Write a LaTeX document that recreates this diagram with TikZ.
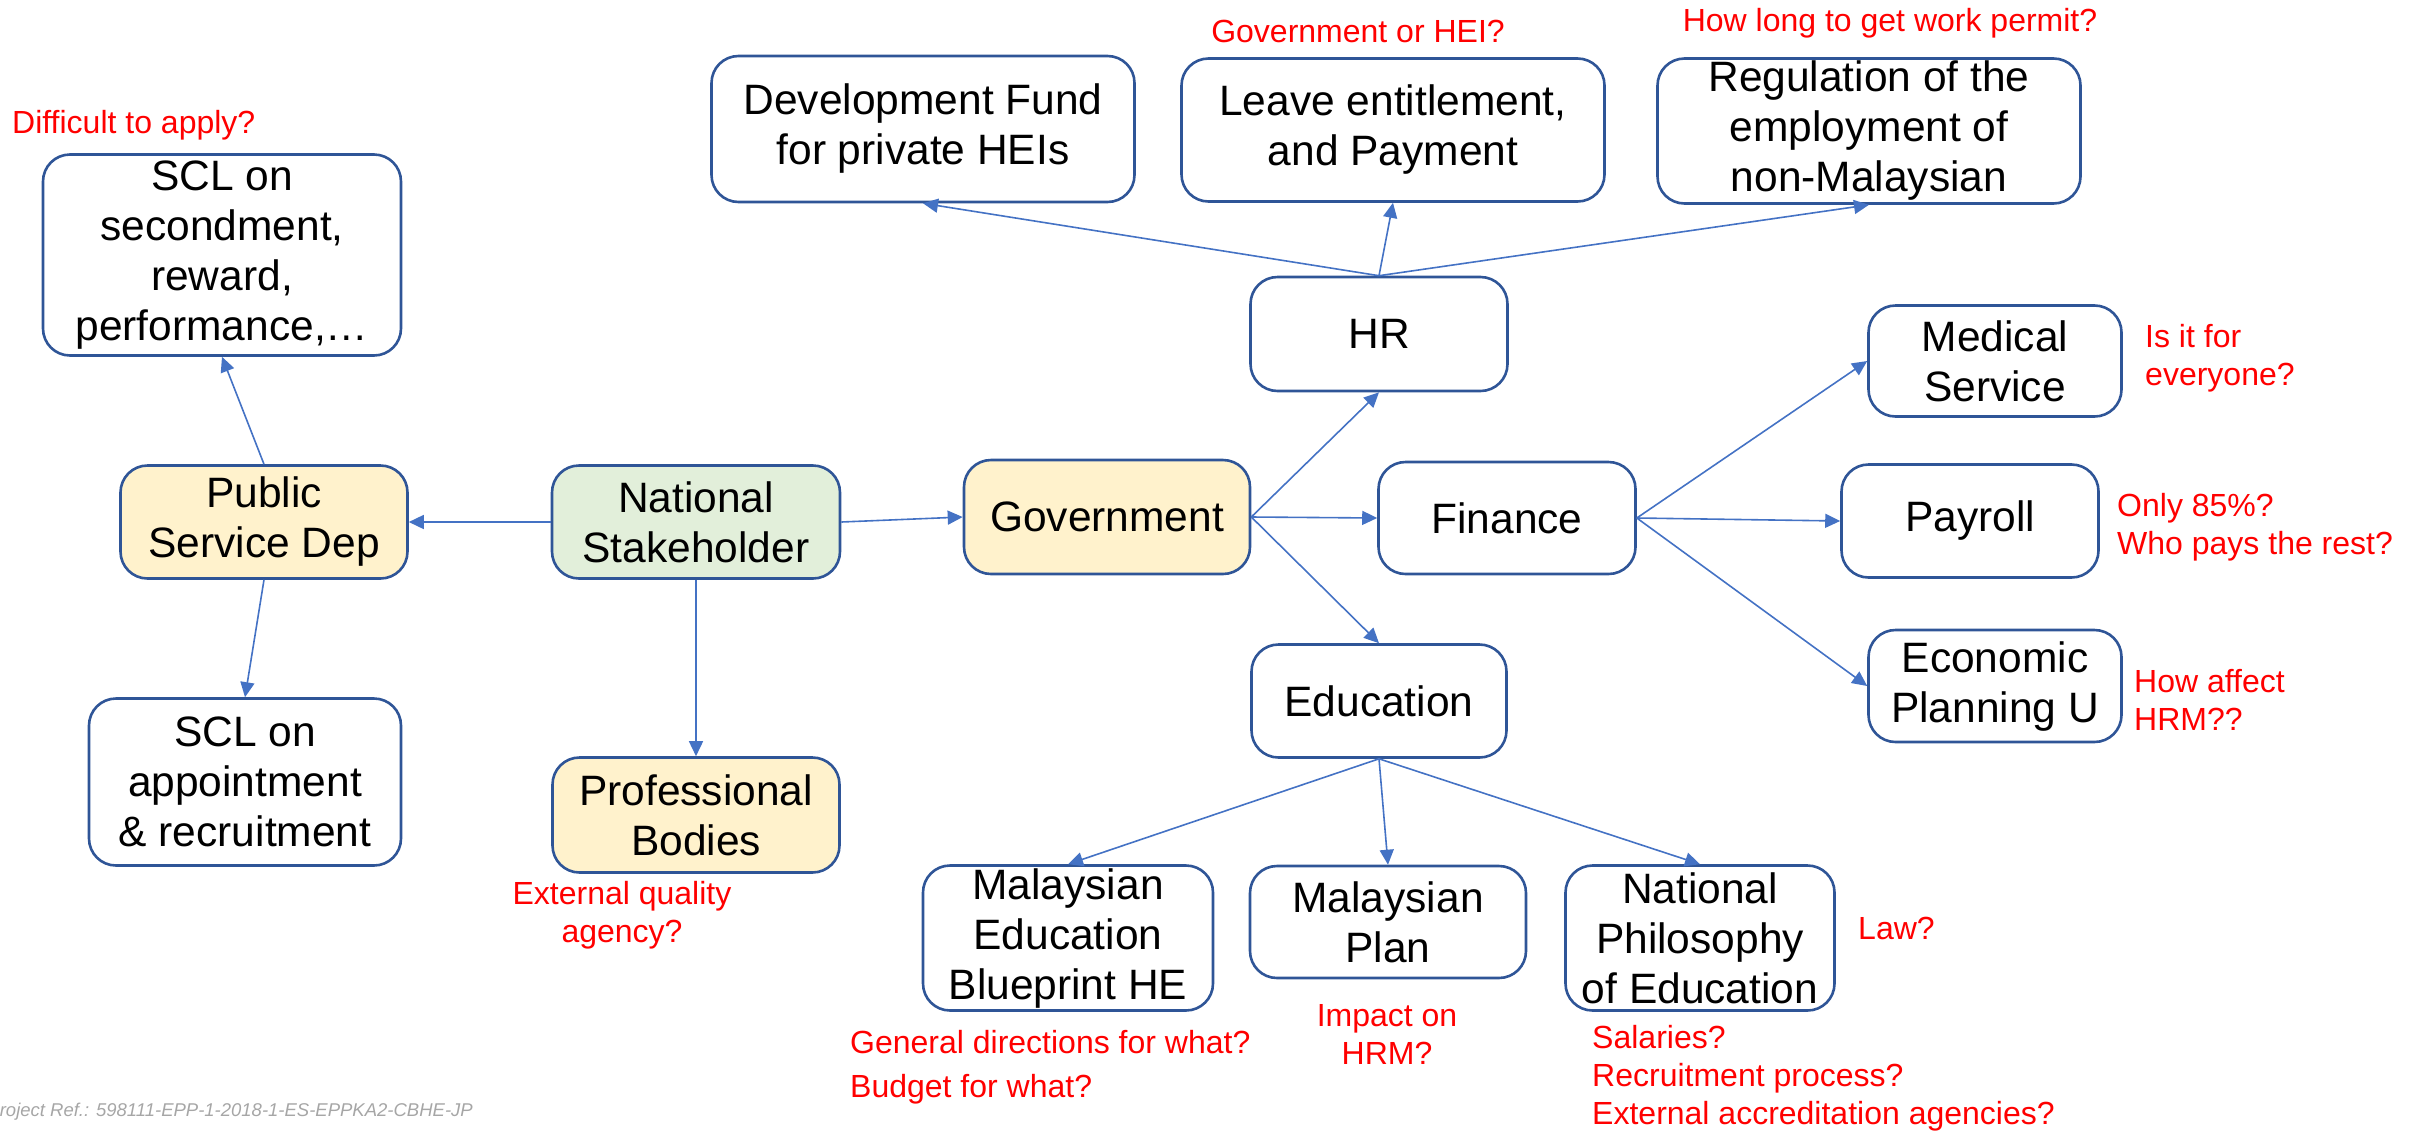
\documentclass[tikz,border=0pt]{standalone}
\usepackage{fontspec}
\setmainfont{Liberation Sans}
\usetikzlibrary{shapes}
\usetikzlibrary{arrows.meta}

\definecolor{boxline}{HTML}{2F5597}
\definecolor{linkblue}{HTML}{4472C4}
\definecolor{hubfill}{HTML}{FFF2CC}
\definecolor{nsfill}{HTML}{E2EFDA}
\definecolor{footgrey}{HTML}{A6A6A6}

\begin{document}
\begin{tikzpicture}[x=1pt,y=-1pt]
	\tikzstyle{every node}=[font=\fontsize{42.5}{50}\selectfont]
	\tikzstyle{unit}=[rectangle, rounded corners=27pt, draw=boxline, line width=2.6pt, align=center, inner xsep=2pt, inner ysep=0pt]
	\tikzstyle{hub}=[unit, fill=hubfill]
	\tikzstyle{note}=[text=red, font=\fontsize{32}{38}\selectfont, inner sep=0pt]
	\tikzstyle{link}=[draw=linkblue, line width=1.6pt, -{Triangle[length=15pt,width=14pt]}]

	\useasboundingbox (0,0) rectangle (2420,1133);

	% left branch
	\node[unit, minimum width=358pt, minimum height=201pt] (secondment) at (222,255) {SCL on\\secondment,\\reward,\\performance,…};
	\node[hub, minimum width=287pt, minimum height=113pt] (psd) at (264,522) {Public\\Service Dep};
	\node[unit, minimum width=312pt, minimum height=167pt] (appoint) at (245,782) {SCL on\\appointment\\\& recruitment};
	\node[unit, fill=nsfill, minimum width=288pt, minimum height=113pt] (national) at (696,522) {National\\Stakeholder};
	\node[hub, minimum width=287pt, minimum height=115pt] (bodies) at (696,815) {Professional\\Bodies};

	% government and its units
	\node[hub, minimum width=286pt, minimum height=114pt] (gov) at (1107,517) {Government};
	\node[unit, minimum width=257pt, minimum height=114pt] (hr) at (1379,334) {HR};
	\node[unit, minimum width=257pt, minimum height=112pt] (finance) at (1507,518) {Finance};
	\node[unit, minimum width=255pt, minimum height=113pt] (edu) at (1379,701) {Education};

	% under HR
	\node[unit, minimum width=423pt, minimum height=146pt] (fund) at (923,129) {Development Fund\\for private HEIs};
	\node[unit, minimum width=423pt, minimum height=143pt] (leave) at (1393,130) {Leave entitlement,\\and Payment};
	\node[unit, minimum width=423pt, minimum height=145pt] (permit) at (1869,131) {Regulation of the\\employment of\\non-Malaysian};

	% under Finance
	\node[unit, minimum width=253pt, minimum height=111pt] (medical) at (1995,361) {Medical\\Service};
	\node[unit, minimum width=257pt, minimum height=113pt] (payroll) at (1970,521) {Payroll};
	\node[unit, minimum width=253pt, minimum height=112pt] (econ) at (1995,686) {Economic\\Planning U};

	% under Education
	\node[unit, minimum width=290pt, minimum height=145pt] (blueprint) at (1068,938) {Malaysian\\Education\\Blueprint HE};
	\node[unit, minimum width=276pt, minimum height=112pt] (plan) at (1388,922) {Malaysian\\Plan};
	\node[unit, minimum width=269pt, minimum height=145pt] (philosophy) at (1700,938) {National\\Philosophy\\of Education};

	% questions
	\node[note, anchor=west] (q1) at (12,125) {Difficult to apply?};
	\node[note, align=center] (q2) at (622,915) {External quality\\agency?};
	\node[note] (q3) at (1358,31) {Government or HEI?};
	\node[note] (q4) at (1890,23) {How long to get work permit?};
	\node[note, anchor=west, align=left] (q5) at (2145,358) {Is it for\\everyone?};
	\node[note, anchor=west, align=left] (q6) at (2117,527) {Only 85\%?\\Who pays the rest?};
	\node[note, anchor=west, align=left] (q7) at (2134,700) {How affect\\HRM??};
	\node[note, anchor=west, align=left] (q8) at (850,1067) {General directions for what?\\[6pt]Budget for what?};
	\node[note, align=center] (q9) at (1387,1034) {Impact on\\HRM?};
	\node[note, anchor=west] (q10) at (1858,928) {Law?};
	\node[note, anchor=west, align=left] (q11) at (1592,1078) {Salaries?\\Recruitment process?\\External accreditation agencies?};

	\node[anchor=east, text=footgrey, font=\fontsize{18.5}{22}\selectfont\itshape, inner sep=0pt] (ref) at (473,1112) {Project Ref.: 598111-EPP-1-2018-1-ES-EPPKA2-CBHE-JP};

	% connectors
	\draw[link] (national.west) -- (psd.east);
	\draw[link] (national.east) -- (gov.west);
	\draw[link] (national.south) -- (bodies.north);
	\draw[link] (psd.north) -- (secondment.south);
	\draw[link] (psd.south) -- (appoint.north);
	\draw[link] (gov.east) -- (hr.south);
	\draw[link] (gov.east) -- (finance.west);
	\draw[link] (gov.east) -- (edu.north);
	\foreach \t in {fund,leave,permit}
		\draw[link] (hr.north) -- (\t.south);
	\foreach \t in {medical,payroll,econ}
		\draw[link] (finance.east) -- (\t.west);
	\foreach \t in {blueprint,plan,philosophy}
		\draw[link] (edu.south) -- (\t.north);
\end{tikzpicture}
\end{document}
